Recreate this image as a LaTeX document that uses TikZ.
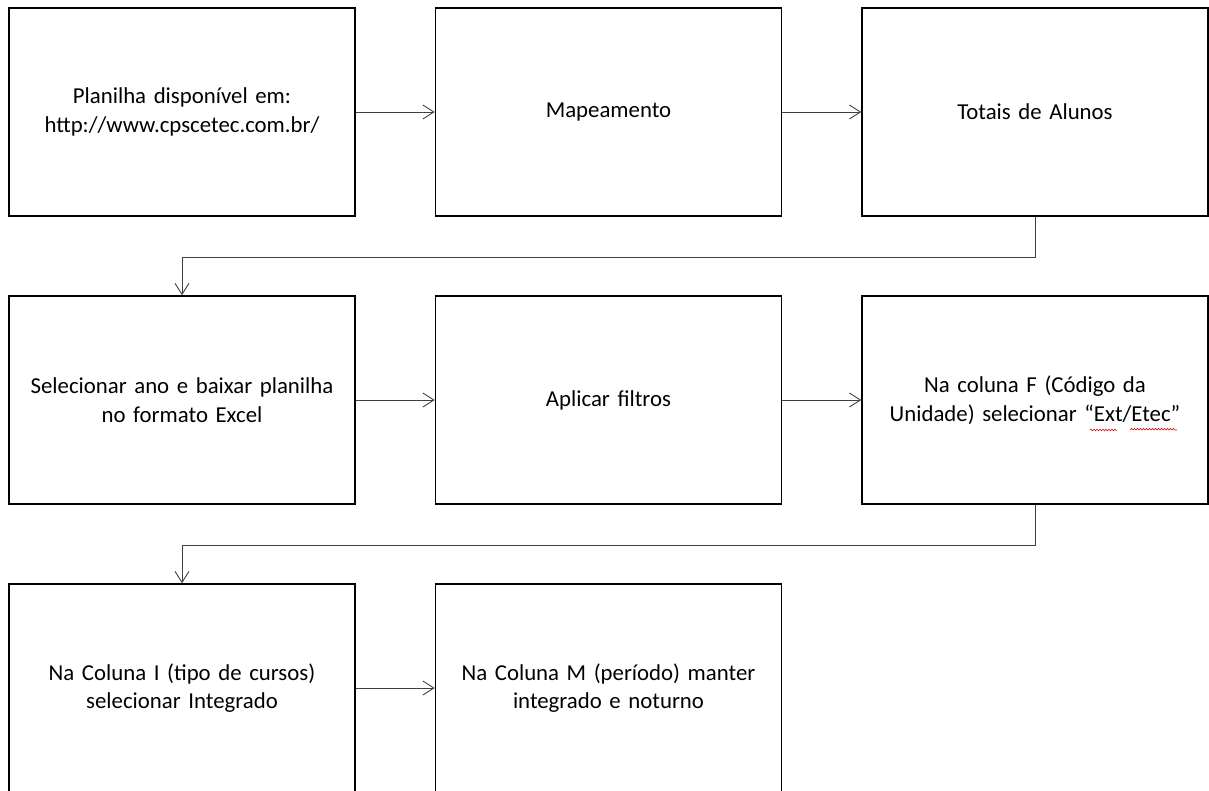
\documentclass[tikz,border=0pt]{standalone}
\usepackage{fontspec}
\setmainfont{Carlito}
\usetikzlibrary{arrows.meta,decorations.pathmorphing}

\begin{document}
\begin{tikzpicture}[x=1pt,y=1pt]

\tikzset{BoxStyle/.style = {draw=black, line width=1.6pt, minimum width=346pt,
                            minimum height=208pt, inner sep=0pt, align=center,
                            text width=330pt, font=\fontsize{22.8}{28.5}\selectfont},
         EdgeStyle/.style = {draw=black!75, line width=.9pt,
                             -{Straight Barb[length=11pt,width=14pt,line width=.9pt]}}}

\useasboundingbox (0,0) rectangle (1209,-790);
\clip (0,0) rectangle (1209,-790);

\node[BoxStyle] (0) at (182pt,-112pt) {Planilha disponível em:\\http://www.cpscetec.com.br/};
\node[BoxStyle] (1) at (608.5pt,-112pt) {Mapeamento};
\node[BoxStyle] (2) at (1035pt,-112pt) {Totais de Alunos};

\node[BoxStyle] (3) at (182pt,-400pt) {Selecionar ano e baixar planilha\\no formato Excel};
\node[BoxStyle] (4) at (608.5pt,-400pt) {Aplicar filtros};
\node[BoxStyle] (5) at (1035pt,-400pt) {Na coluna F (Código da\\Unidade) selecionar “Ext/Etec”};

\node[BoxStyle] (6) at (182pt,-688pt) {Na Coluna I (tipo de cursos)\\selecionar Integrado};
\node[BoxStyle] (7) at (608.5pt,-688pt) {Na Coluna M (período) manter\\integrado e noturno};

\draw[EdgeStyle] (0) -- (1);
\draw[EdgeStyle] (1) -- (2);
\draw[EdgeStyle] (2.south) -- ++(0,-41pt) -| (3.north);
\draw[EdgeStyle] (3) -- (4);
\draw[EdgeStyle] (4) -- (5);
\draw[EdgeStyle] (5.south) -- ++(0,-41pt) -| (6.north);
\draw[EdgeStyle] (6) -- (7);

% spelling marks
\draw[red!80!black, line width=.6pt, decorate,
      decoration={snake, amplitude=.8pt, segment length=3pt}]
      (1090pt,-430pt) -- (1116pt,-430pt) (1130pt,-430pt) -- (1177pt,-430pt);

\end{tikzpicture}
\end{document}
